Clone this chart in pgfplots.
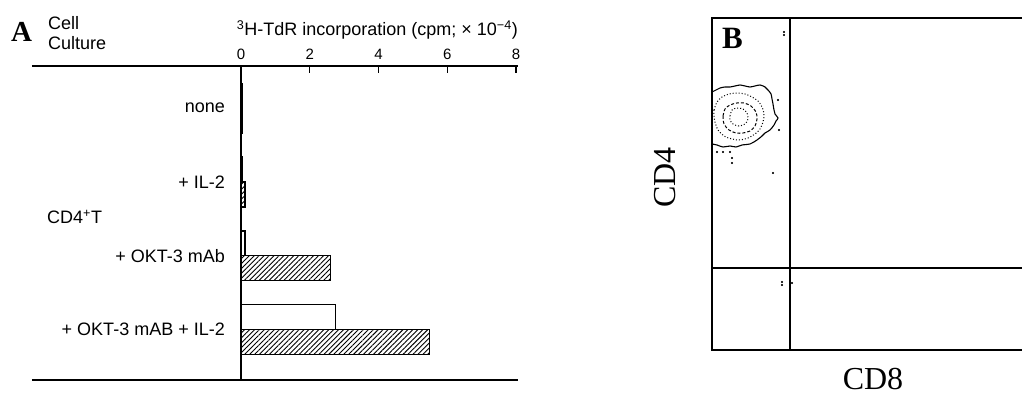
\documentclass[border=0pt]{standalone}
\usepackage{fontspec}
\setmainfont{Liberation Sans}
\newfontfamily\timesfont{Liberation Serif}
\usepackage{pgfplots}
\pgfplotsset{compat=1.18}
\usetikzlibrary{patterns.meta}

\begin{document}
\begin{tikzpicture}[x=1pt,y=1pt]
\useasboundingbox (0,0) rectangle (1022,401);
% ---------------- Panel A ----------------
\begin{axis}[
  at={(32pt,21pt)}, anchor=south west, scale only axis,
  width=486pt, height=314pt,
  xmin=-6.08, xmax=8.06, ymin=0.43, ymax=4.68, y dir=reverse,
  separate axis lines,
  x axis line style={line width=1.6pt},
  y axis line style={draw=none},
  xtick={0,2,4,6,8}, xtick pos=right, xticklabel pos=right, xtick align=inside,
  major tick length=7pt,
  every x tick/.style={line width=1.4pt, black},
  xticklabel style={font=\fontsize{15}{17}\selectfont, yshift=3pt},
  /pgf/number format/assume math mode=true,
  ytick={1,2,3,4},
  yticklabels={none, + IL-2, + OKT-3 mAb, + OKT-3 mAB + IL-2},
  every y tick/.style={draw=none},
  yticklabel style={font=\fontsize{18}{20}\selectfont, inner sep=0pt, xshift=200pt},
  xbar, bar width=0.338, bar shift=0pt,
  clip=false,
]
\addplot[draw=black, line width=1.2pt, fill=white]
  coordinates {(0.04,0.831) (0.05,1.831) (0.12,2.831) (2.75,3.831)};
\addplot[draw=black, line width=1.2pt, pattern={Lines[angle=45,distance=3.5pt,line width=0.9pt]}]
  coordinates {(0.05,1.169) (0.12,2.169) (2.6,3.169) (5.48,4.169)};
\draw[line width=1.6pt] (axis cs:0,0.43) -- (axis cs:0,4.68);
\end{axis}
\node[anchor=base west, inner sep=0pt, font=\timesfont\bfseries\fontsize{29}{30}\selectfont] at (11,359) {A};
\node[anchor=base west, inner sep=0pt, font=\fontsize{18}{20}\selectfont] at (48,371) {Cell};
\node[anchor=base west, inner sep=0pt, font=\fontsize{18}{20}\selectfont] at (48,351) {Culture};
\node[anchor=base east, inner sep=0pt, font=\fontsize{18}{20}\selectfont] at (518,365)
  {\textsuperscript{3}H-TdR incorporation (cpm; × 10\textsuperscript{−4})};
\node[anchor=west, inner sep=0pt, font=\fontsize{18}{20}\selectfont] at (47,184) {CD4\textsuperscript{+}T};
% ---------------- Panel B ----------------
\begin{axis}[
  at={(712pt,51pt)}, anchor=south west, scale only axis,
  width=318pt, height=332pt,
  xmin=0, xmax=318, ymin=0, ymax=332,
  ticks=none, axis line style={line width=2.4pt},
]
\addplot[black, line width=2.2pt] coordinates {(78,0) (78,332)};
\addplot[black, line width=2.2pt] coordinates {(0,82) (318,82)};
% outer contour
\addplot[black, line width=1.1pt, smooth] coordinates {
 (0,258) (4,260) (8,262) (13,263) (18,263) (23,264) (28,265) (33,264) (38,263) (43,264)
 (48,265) (53,263) (56,260) (59,256) (60,251) (61,246) (62,240) (63,236) (66,232) (64,229)
 (62,225) (58,220) (53,217) (50,214) (45,210) (38,206) (30,205) (24,203) (18,204) (11,203)
 (5,205) (0,206)};
% second contour (dotted)
\addplot[black, line width=1pt, dotted, smooth] coordinates {
 (2,240) (5,248) (10,253) (17,256) (25,257) (33,256) (40,253) (46,249) (50,243) (52,236)
 (51,228) (48,221) (43,216) (36,212) (28,210) (20,211) (12,214) (6,220) (3,228) (2,234) (2,240)};
% third contour (dashed)
\addplot[black, line width=1pt, densely dashed, smooth] coordinates {
 (11,234) (13,241) (18,245) (25,247) (32,247) (39,244) (44,238) (45,231) (43,224) (38,219)
 (31,217) (24,217) (17,220) (12,226) (11,234)};
% inner contour (dotted)
\addplot[black, line width=1pt, dotted, smooth] coordinates {
 (18,234) (20,240) (25,242) (31,241) (35,237) (36,231) (33,226) (27,224) (21,226) (18,230) (18,234)};
% scattered events
\addplot[only marks, mark=*, mark size=0.9pt, black] coordinates {
 (5,198) (11,198) (18,198) (20,192) (20,187) (61,177) (66,250) (67,220)
 (72,315) (72,318) (70,68) (70,65) (80,67)};
\end{axis}
\node[anchor=base west, inner sep=0pt, font=\timesfont\bfseries\fontsize{31}{34}\selectfont] at (722,352) {B};
\node[anchor=base, inner sep=0pt, rotate=90, font=\timesfont\fontsize{32}{34}\selectfont] at (675,223.5) {CD4};
\node[anchor=base, inner sep=0pt, font=\timesfont\fontsize{32}{34}\selectfont] at (873,11) {CD8};
\end{tikzpicture}
\end{document}
